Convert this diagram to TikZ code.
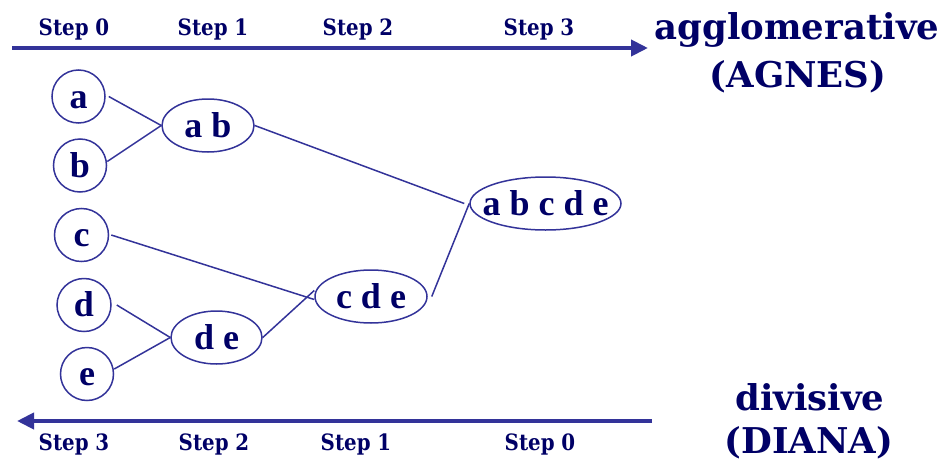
\documentclass[tikz,border=0pt]{standalone}
\usepackage{fontspec}
\usetikzlibrary{shapes.geometric,arrows.meta}
\newfontfamily\headfont{DejaVu Serif}
\newfontfamily\nodefont{Liberation Serif}
\definecolor{lineblue}{RGB}{51,51,153}
\definecolor{navy}{RGB}{0,0,102}
\newcommand{\stp}[1]{\scalebox{0.88}[1]{#1}}
\tikzset{
  clu/.style={ellipse, draw=lineblue, line width=1.5pt, inner sep=0pt,
              minimum width=#1, minimum height=53pt},
  lt/.style={inner sep=0pt, text=navy, text height=24pt, text depth=1pt,
             font=\nodefont\bfseries\fontsize{36pt}{40pt}\selectfont},
  edge/.style={draw=lineblue, line width=1.5pt},
  bigarrow/.style={draw=lineblue, line width=4pt, -{Triangle[length=17pt,width=16pt]}},
  steplab/.style={anchor=base, inner sep=0pt, text=navy,
                  font=\headfont\bfseries\fontsize{22.5pt}{26pt}\selectfont},
  headlab/.style={anchor=base, inner sep=0pt, text=navy,
                  font=\headfont\bfseries\fontsize{35.5pt}{40pt}\selectfont}
}
\begin{document}
\begin{tikzpicture}[x=1pt,y=-1pt]
\useasboundingbox (0,0) rectangle (950,463);
% arrows
\coordinate (ts) at (12,48);
\coordinate (te) at (648,48);
\coordinate (bs) at (652,421);
\coordinate (be) at (17,421);
\draw[bigarrow] (ts) -- (te);
\draw[bigarrow] (bs) -- (be);
% step labels
\node[steplab] (t0) at (74,35) {\stp{Step 0}};
\node[steplab] (t1) at (213,35) {\stp{Step 1}};
\node[steplab] (t2) at (358,35) {\stp{Step 2}};
\node[steplab] (t3) at (539,35) {\stp{Step 3}};
\node[steplab] (b3) at (74,450) {\stp{Step 3}};
\node[steplab] (b2) at (214,450) {\stp{Step 2}};
\node[steplab] (b1) at (356,450) {\stp{Step 1}};
\node[steplab] (b0) at (540,450) {\stp{Step 0}};
% headings
\node[headlab] (agg) at (797,39) {agglomerative};
\node[headlab] (agnes) at (798,87) {(AGNES)};
\node[headlab] (div) at (810,410) {divisive};
\node[headlab] (diana) at (809,453) {(DIANA)};
% nodes
\node[clu=53pt, label={[lt]center:a}] (a) at (78.5,96.5) {};
\node[clu=53pt, label={[lt]center:b}] (b) at (80,165.5) {};
\node[clu=54pt, label={[lt]center:c}] (c) at (81.5,235) {};
\node[clu=54pt, label={[lt]center:d}] (d) at (84,305) {};
\node[clu=53pt, label={[lt]center:e}] (e) at (87,374) {};
\node[clu=92pt, label={[lt]center:a b}] (ab) at (208,125.5) {};
\node[clu=91pt, label={[lt]center:d e}] (de) at (216.5,337.5) {};
\node[clu=112pt, label={[lt]center:c d e}] (cde) at (371,296.5) {};
\node[clu=151pt, label={[lt]center:a b c d e}] (abcde) at (545.5,203.5) {};
% edges
\draw[edge] ([xshift=3pt]a.east) -- (ab.west);
\draw[edge] ([yshift=4pt]b.east) -- (ab.west);
\draw[edge] (ab.east) -- ([xshift=-5pt]abcde.west);
\draw[edge] ([xshift=2pt]c.east) -- ([yshift=-3pt]cde.west);
\draw[edge] ([xshift=5pt]d.east) -- (de.west);
\draw[edge] ([yshift=5pt]e.east) -- (de.west);
\draw[edge] (de.east) -- ([yshift=6pt]cde.west);
\draw[edge] ([xshift=4pt]cde.east) -- (abcde.west);
\end{tikzpicture}
\end{document}
